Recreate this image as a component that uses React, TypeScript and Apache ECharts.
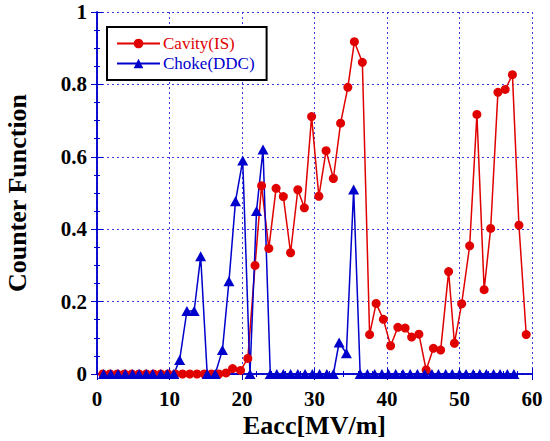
import React, { useEffect, useRef } from "react";
import * as echarts from "echarts";

const cavityX = [0.8, 1.8, 2.8, 3.8, 4.8, 5.8, 6.8, 7.8, 8.8, 9.8, 10.8, 11.8, 12.8, 13.8, 14.8, 15.8, 16.8, 17.8, 18.7, 19.8, 20.8, 21.8, 22.7, 23.7, 24.7, 25.7, 26.7, 27.7, 28.6, 29.6, 30.6, 31.6, 32.6, 33.6, 34.6, 35.5, 36.6, 37.6, 38.5, 39.5, 40.5, 41.5, 42.5, 43.4, 44.4, 45.4, 46.4, 47.4, 48.5, 49.3, 50.3, 51.4, 52.4, 53.4, 54.3, 55.3, 56.3, 57.3, 58.2, 59.2];
const cavityY = [0, 0, 0, 0, 0, 0, 0, 0, 0, 0, 0, 0, 0, 0, 0, 0, 0, 0.003, 0.015, 0.01, 0.043, 0.3, 0.52, 0.347, 0.513, 0.49, 0.335, 0.509, 0.459, 0.711, 0.491, 0.617, 0.54, 0.693, 0.792, 0.918, 0.861, 0.109, 0.195, 0.151, 0.078, 0.129, 0.127, 0.102, 0.11, 0.011, 0.071, 0.066, 0.283, 0.085, 0.194, 0.354, 0.717, 0.233, 0.402, 0.778, 0.786, 0.827, 0.411, 0.109];

const chokeX = [0.9, 1.9, 2.9, 3.9, 4.9, 5.8, 6.8, 7.7, 8.8, 9.7, 10.6, 11.4, 12.4, 13.4, 14.3, 15.2, 16.3, 17.3, 18.2, 19.1, 20.1, 21.1, 22.0, 22.9, 23.9, 24.8, 25.7, 26.7, 27.7, 28.7, 29.7, 30.7, 31.7, 32.6, 33.4, 34.4, 35.4, 36.3, 37.3, 38.3, 39.3, 40.2, 41.2, 42.2, 43.2, 44.2, 45.2, 46.2, 47.1, 48.1, 49.0, 50.0, 50.9, 51.9, 52.8, 53.7, 54.7, 55.6, 56.6, 57.5];
const chokeY = [0, 0, 0, 0, 0, 0, 0, 0, 0, 0, 0, 0.039, 0.174, 0.174, 0.325, 0, 0, 0.066, 0.256, 0.477, 0.59, 0, 0.45, 0.62, 0, 0, 0, 0, 0, 0, 0, 0, 0, 0, 0.087, 0.057, 0.51, 0, 0, 0, 0, 0, 0, 0, 0, 0, 0, 0, 0, 0, 0, 0, 0, 0, 0, 0, 0, 0, 0, 0];

const RED = "#e00000";
const BLUE = "#0000cc";
const FONT = "Liberation Serif";

export default function App() {
  const ref = useRef<HTMLDivElement>(null);
  useEffect(() => {
    if (!ref.current) return;
    const chart = echarts.init(ref.current, undefined, { renderer: "svg" });
    const axisCommon = {
      axisLine: { show: true, lineStyle: { color: BLUE, width: 1.5 } },
      axisTick: { show: true, inside: true, length: 6, lineStyle: { color: BLUE, width: 1 } },
      minorTick: { show: true, splitNumber: 5, length: 3, lineStyle: { color: BLUE, width: 1 } },
    };
    chart.setOption({
      animation: false,
      textStyle: { fontFamily: FONT },
      grid: { left: 97, top: 12, width: 435, height: 362, containLabel: false, outerBoundsMode: "none" },
      legend: {
        show: true,
        left: 107,
        top: 27,
        orient: "vertical",
        borderColor: "#000",
        borderWidth: 2,
        padding: [8, 12, 8, 9],
        itemGap: 3,
        itemWidth: 43,
        itemHeight: 12,
        backgroundColor: "#fff",
        data: [
          { name: "Cavity(IS)", textStyle: { color: RED, fontFamily: FONT, fontSize: 17 } },
          { name: "Choke(DDC)", textStyle: { color: BLUE, fontFamily: FONT, fontSize: 17 } },
        ],
        textStyle: { fontFamily: FONT, fontSize: 17, padding: [0, 0, 0, -2] },
      },
      xAxis: [
        {
          type: "value",
          min: 0,
          max: 60,
          interval: 10,
          position: "bottom",
          ...axisCommon,
          axisLabel: { color: "#000", fontFamily: FONT, fontWeight: "bold", fontSize: 21, margin: 14 },
          splitLine: { show: true, lineStyle: { color: "#3a3ae0", type: [2, 3], width: 1 } },
          name: "Eacc[MV/m]",
          nameLocation: "middle",
          nameGap: 51,
          nameMoveOverlap: false,
          nameTextStyle: { color: "#000", fontFamily: FONT, fontWeight: "bold", fontSize: 26, verticalAlign: "middle" },
        },
        {
          type: "value",
          min: 0,
          max: 60,
          interval: 10,
          position: "top",
          ...axisCommon,
          axisLabel: { show: false },
          splitLine: { show: false },
        },
      ],
      yAxis: [
        {
          type: "value",
          min: 0,
          max: 1,
          interval: 0.2,
          position: "left",
          ...axisCommon,
          minorTick: { show: true, splitNumber: 4, length: 3, lineStyle: { color: BLUE, width: 1 } },
          axisLabel: { color: "#000", fontFamily: FONT, fontWeight: "bold", fontSize: 21, margin: 10 },
          splitLine: { show: true, lineStyle: { color: "#3a3ae0", type: [2, 3], width: 1 } },
          name: "Counter Function",
          nameLocation: "middle",
          nameGap: 67,
          nameMoveOverlap: false,
          nameTextStyle: { color: "#000", fontFamily: FONT, fontWeight: "bold", fontSize: 26 },
        },
        {
          type: "value",
          min: 0,
          max: 1,
          interval: 0.2,
          position: "right",
          ...axisCommon,
          minorTick: { show: true, splitNumber: 4, length: 3, lineStyle: { color: BLUE, width: 1 } },
          axisLabel: { show: false },
          splitLine: { show: false },
        },
      ],
      series: [
        {
          name: "Cavity(IS)",
          type: "line",
          xAxisIndex: 0,
          yAxisIndex: 0,
          data: cavityX.map((x, i) => [x, cavityY[i]]),
          symbol: "circle",
          symbolSize: 9,
          clip: false,
          lineStyle: { color: RED, width: 1.5 },
          itemStyle: { color: RED },
        },
        {
          name: "Choke(DDC)",
          type: "line",
          xAxisIndex: 0,
          yAxisIndex: 0,
          data: chokeX.map((x, i) => [x, chokeY[i]]),
          symbol: "triangle",
          symbolSize: [11, 10],
          clip: false,
          lineStyle: { color: BLUE, width: 1.5 },
          itemStyle: { color: BLUE },
        },
      ],
    });
    return () => chart.dispose();
  }, []);
  return <div ref={ref} style={{ width: 550, height: 441, position: "absolute", left: 0, top: 0 }} />;
}
